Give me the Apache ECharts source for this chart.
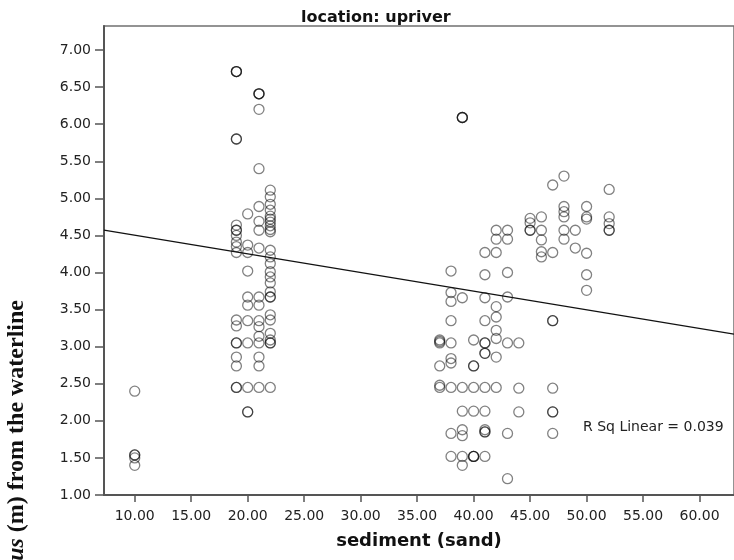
<!DOCTYPE html>
<html>
<head>
<meta charset="utf-8">
<script src="https://cdn.jsdelivr.net/npm/echarts@6/dist/echarts.min.js"></script>
<style>
  html, body { margin: 0; padding: 0; background: #fff; }
  #chart { width: 734px; height: 560px; }
</style>
</head>
<body>
<div id="chart"></div>
<script>
// sediment (sand) levels, each with the distances measured at that level
const sedimentLevels = [10, 19, 20, 21, 22, 37, 38, 39, 40, 41, 42, 43, 44, 45, 46, 47, 48, 49, 50, 52];
const s10 = [2.40, 1.54, 1.54, 1.50, 1.40];
const s19 = [6.71, 6.71, 6.71, 5.80, 5.80, 4.64, 4.57, 4.57, 4.50, 4.41, 4.35, 4.27, 3.36, 3.28, 3.05, 3.05, 2.86, 2.74, 2.45, 2.45];
const s20 = [4.79, 4.37, 4.27, 4.02, 3.67, 3.56, 3.35, 3.05, 2.45, 2.12, 2.12];
const s21 = [6.41, 6.41, 6.41, 6.20, 5.40, 4.89, 4.69, 4.57, 4.33, 3.67, 3.56, 3.35, 3.27, 3.14, 3.05, 2.86, 2.74, 2.45];
const s22 = [5.11, 5.02, 4.92, 4.84, 4.76, 4.72, 4.68, 4.63, 4.58, 4.55, 4.30, 4.21, 4.12, 4.01, 3.94, 3.86, 3.74, 3.67, 3.67, 3.43, 3.36, 3.18, 3.09, 3.05, 3.05, 2.45];
const s37 = [3.09, 3.07, 3.05, 2.74, 2.48, 2.45];
const s38 = [4.02, 3.73, 3.61, 3.35, 3.05, 2.84, 2.78, 2.45, 1.83, 1.52];
const s39 = [6.09, 6.09, 6.09, 3.66, 2.45, 2.13, 1.88, 1.80, 1.52, 1.40];
const s40 = [3.09, 2.74, 2.74, 2.45, 2.13, 1.52, 1.52, 1.52];
const s41 = [4.27, 3.97, 3.66, 3.35, 3.05, 3.05, 2.91, 2.91, 2.45, 2.13, 1.88, 1.85, 1.85, 1.52];
const s42 = [4.57, 4.45, 4.27, 3.54, 3.40, 3.22, 3.11, 2.86, 2.45];
const s43 = [4.57, 4.45, 4.00, 3.67, 3.05, 1.83, 1.22];
const s44 = [3.05, 2.44, 2.12];
const s45 = [4.73, 4.67, 4.57, 4.57];
const s46 = [4.75, 4.57, 4.44, 4.28, 4.21];
const s47 = [5.18, 4.27, 3.35, 3.35, 2.44, 2.12, 2.12, 1.83];
const s48 = [5.30, 4.89, 4.82, 4.75, 4.57, 4.45];
const s49 = [4.57, 4.33];
const s50 = [4.89, 4.75, 4.72, 4.26, 3.97, 3.76];
const s52 = [5.12, 4.75, 4.66, 4.57, 4.57];
const distanceByLevel = [s10, s19, s20, s21, s22, s37, s38, s39, s40, s41, s42, s43, s44, s45, s46, s47, s48, s49, s50, s52];

// fit line end points
const fitX = [7.28, 63.05];
const fitY = [4.571, 3.168];

const xTicks = [10, 15, 20, 25, 30, 35, 40, 45, 50, 55, 60];
const yTicks = [1, 1.5, 2, 2.5, 3, 3.5, 4, 4.5, 5, 5.5, 6, 6.5, 7];

const points = [];
sedimentLevels.forEach((lvl, i) => {
  distanceByLevel[i].forEach(v => points.push([lvl, v]));
});

const chart = echarts.init(document.getElementById('chart'));

const tickFont = {
  color: '#222',
  fontSize: 14,
  fontFamily: 'DejaVu Sans, sans-serif',
};

chart.setOption({
  animation: false,
  backgroundColor: '#fff',
  grid: {
    left: 104,
    top: 26,
    right: -5,
    bottom: 65,
    show: true,
    borderColor: '#707070',
    borderWidth: 1.5,
  },
  xAxis: {
    type: 'value',
    min: fitX[0],
    max: fitX[1],
    name: 'sediment (sand)',
    nameLocation: 'middle',
    nameGap: 46,
    nameTextStyle: {
      color: '#111',
      fontSize: 18,
      fontWeight: 'bold',
      fontFamily: 'DejaVu Sans, sans-serif',
      verticalAlign: 'middle',
    },
    splitLine: { show: false },
    axisLine: { show: true, onZero: false, lineStyle: { color: '#555', width: 2 } },
    axisTick: { show: true, length: 7, customValues: xTicks, lineStyle: { color: '#555', width: 1.5 } },
    axisLabel: {
      ...tickFont,
      margin: 14,
      customValues: xTicks,
      formatter: v => v.toFixed(2),
    },
  },
  yAxis: {
    type: 'value',
    min: 1,
    max: 7.324,
    splitLine: { show: false },
    axisLine: { show: true, onZero: false, lineStyle: { color: '#555', width: 2 } },
    axisTick: { show: true, length: 9, customValues: yTicks, lineStyle: { color: '#555', width: 1.5 } },
    axisLabel: {
      ...tickFont,
      margin: 13,
      customValues: yTicks,
      formatter: v => v.toFixed(2),
    },
  },
  graphic: [
    {
      type: 'text',
      left: 381 - 80,
      top: 10,
      style: {
        text: 'location: upriver',
        x: 80,
        textAlign: 'center',
        fill: '#111',
        fontSize: 16,
        fontWeight: 'bold',
        fontFamily: 'DejaVu Sans, sans-serif',
      },
    },
    {
      type: 'text',
      x: 17,
      y: 300,
      rotation: Math.PI / 2,
      style: {
        text: '{i|us} (m) from the waterline',
        textAlign: 'right',
        textVerticalAlign: 'middle',
        fill: '#111',
        fontSize: 24,
        fontWeight: 'bold',
        fontFamily: 'Liberation Serif, serif',
        rich: {
          i: { fontStyle: 'italic', fontWeight: 'bold', fontSize: 24, fontFamily: 'Liberation Serif, serif', fill: '#111' },
        },
      },
    },
    {
      type: 'text',
      x: 583,
      y: 427,
      style: {
        text: 'R Sq Linear = 0.039',
        textVerticalAlign: 'middle',
        fill: '#222',
        fontSize: 14,
        fontFamily: 'DejaVu Sans, sans-serif',
      },
    },
  ],
  series: [
    {
      type: 'scatter',
      data: points,
      symbol: 'circle',
      symbolSize: 10,
      itemStyle: {
        color: 'rgba(0,0,0,0)',
        borderColor: 'rgba(0,0,0,0.62)',
        borderWidth: 1.3,
      },
    },
    {
      type: 'line',
      data: fitX.map((x, i) => [x, fitY[i]]),
      symbol: 'none',
      lineStyle: { color: '#111', width: 1.3 },
    },
  ],
});
</script>
</body>
</html>
